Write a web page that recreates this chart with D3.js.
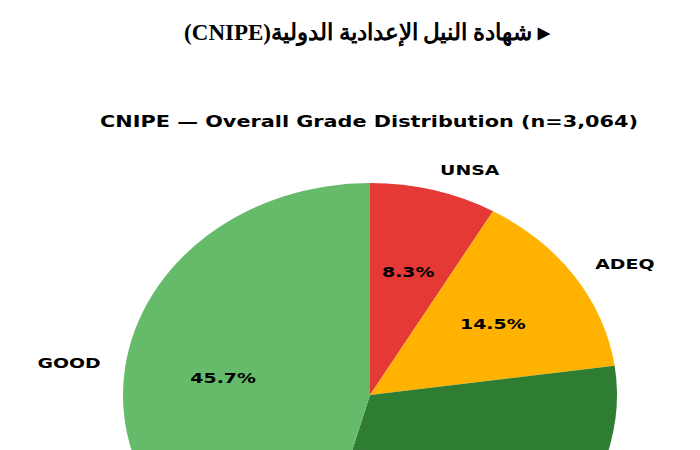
<!DOCTYPE html>
<html><head><meta charset="utf-8">
<script src="https://cdn.jsdelivr.net/npm/d3@7"></script>
<style>body{margin:0;background:#fff}</style></head>
<body><svg id="c" width="700" height="450"></svg>
<script>
const categories = ["UNSA","ADEQ","VGOOD","GOOD"];
const values = [8.3, 14.5, 31.5, 45.7];
const colors = ["#e53935","#ffb300","#2e7d32","#66bb6a"];

const svg = d3.select("#c");
svg.append("text").attr("x",550).attr("y",40).attr("direction","rtl").attr("text-anchor","start")
  .attr("font-family","Liberation Serif, serif").attr("font-weight","bold").attr("font-size",23)
  .text("▸ شهادة النيل الإعدادية الدولية(CNIPE)");
svg.append("text").attr("transform","translate(369,127) scale(1.3,1)").attr("text-anchor","middle")
  .attr("font-family","DejaVu Sans").attr("font-weight","bold").attr("font-size",16)
  .text("CNIPE — Overall Grade Distribution (n=3,064)");

const cx=370, cy=395, rx=247, ry=212;
const pie = d3.pie().sort(null).value(d=>d);
const arcs = pie(values);
const arc = d3.arc().innerRadius(0).outerRadius(rx);
const g = svg.append("g").attr("transform",`translate(${cx},${cy}) scale(1,${ry/rx})`);
g.selectAll("path").data(arcs).join("path").attr("d",arc).attr("fill",(d,i)=>colors[i]);

function txt(x,y,anchor,s){
  svg.append("text").attr("transform",`translate(${x},${y}) scale(1.35,1)`).attr("dy","0.35em")
    .attr("text-anchor",anchor).attr("font-family","DejaVu Sans").attr("font-weight","bold")
    .attr("font-size",14).text(s);
}
arcs.forEach((a,i)=>{
  const m=(a.startAngle+a.endAngle)/2, s=Math.sin(m), c=Math.cos(m);
  const lx=cx+1.1*rx*s, ly=cy-1.1*ry*c, px=cx+0.6*rx*s, py=cy-0.6*ry*c;
  if(ly<435) txt(lx,ly,s>0?"start":"end",categories[i]);
  if(py<435) txt(px,py,"middle",values[i].toFixed(1)+"%");
});
</script></body></html>
